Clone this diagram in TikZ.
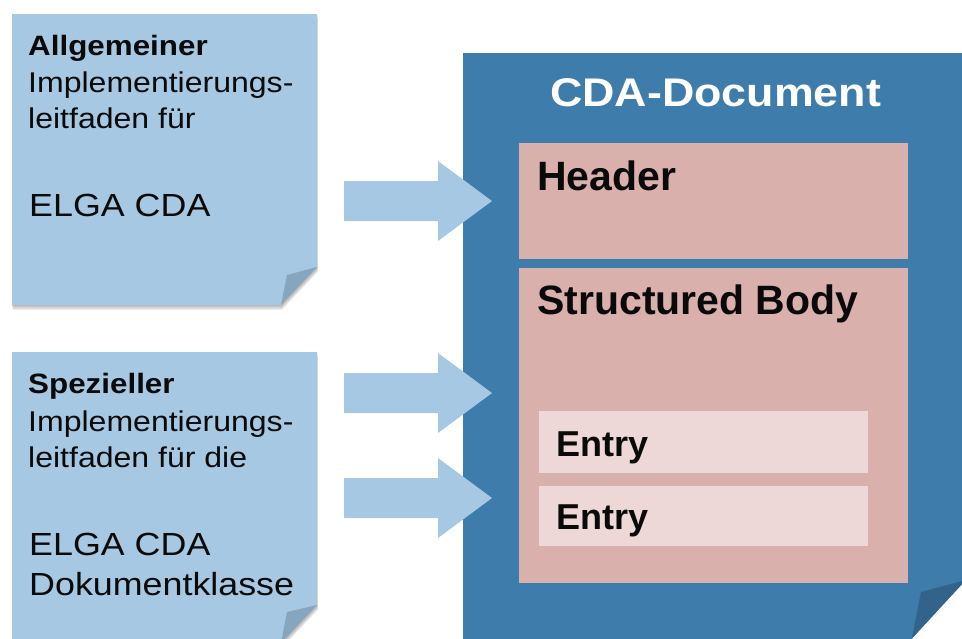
\documentclass[tikz,border=0pt]{standalone}
\usepackage{fontspec}
\setmainfont{Liberation Sans}
\newfontfamily\widefont{Liberation Sans}[FakeStretch=1.12]
\usetikzlibrary{calc}
\definecolor{noteblue}{RGB}{167,200,226}
\definecolor{notefold}{RGB}{134,165,190}
\definecolor{docblue}{RGB}{61,124,171}
\definecolor{docfold}{RGB}{49,99,139}
\definecolor{pinkbox}{RGB}{218,176,173}
\definecolor{entrybox}{RGB}{237,216,215}
\definecolor{txt}{RGB}{10,10,10}
\newcommand\fatarrow[2]{%
  \fill[arrowfill] ($(#1)+(0,-20)$) -- ($(#2)+(-54,-20)$) -- ($(#2)+(-54,-40)$) -- (#2)
    -- ($(#2)+(-54,40)$) -- ($(#2)+(-54,20)$) -- ($(#1)+(0,20)$) -- cycle;}
\begin{document}
\begin{tikzpicture}[x=1pt,y=-1pt,
  arrowfill/.style={fill=noteblue},
  notefill/.style={fill=noteblue},
  foldfill/.style={fill=notefold},
  shadowfill/.style={fill=black,opacity=0.10},
  lbl/.style={inner sep=0pt,anchor=base west,text=txt},
  notesmall/.style={lbl,font=\widefont\fontsize{28.6}{34}\selectfont},
  notesmallb/.style={lbl,font=\widefont\bfseries\fontsize{28}{34}\selectfont},
  notebig/.style={lbl,font=\widefont\fontsize{32}{38}\selectfont},
  boxlbl/.style={lbl,font=\bfseries\fontsize{41}{48}\selectfont},
  entrylbl/.style={lbl,font=\bfseries\fontsize{36}{42}\selectfont},
  pinkrect/.style={fill=pinkbox,draw=none,inner sep=0pt,anchor=north west},
  entryrect/.style={fill=entrybox,draw=none,inner sep=0pt,anchor=north west}]
\useasboundingbox (0,0) rectangle (962,638);
\clip (0,0) rectangle (962,638);

% ---- note 1 ----
\foreach \d in {1.2,2.4,3.6,4.8}{
  \fill[shadowfill,opacity=0.08] (12+0.2*\d,14+\d) -- (317+0.2*\d,14+\d) -- (317+0.2*\d,267+\d) -- (281+0.2*\d,305+\d) -- (12+0.2*\d,305+\d) -- cycle;}
\fill[notefill] (12,14) -- (317,14) -- (317,267) -- (281,305) -- (12,305) -- cycle;
\fill[foldfill] (317,267) -- (287,275) -- (281,305) -- cycle;
\node[notesmallb] (n1a) at (28,55) {Allgemeiner};
\node[notesmall]  (n1b) at (28,92) {Implementierungs-};
\node[notesmall]  (n1c) at (28,128.5) {leitfaden für};
\node[notebig]    (n1d) at (29,216) {ELGA CDA};

% ---- note 2 ----
\foreach \d in {1.2,2.4,3.6,4.8}{
  \fill[shadowfill,opacity=0.08] (12+0.2*\d,352+\d) -- (317+0.2*\d,352+\d) -- (317+0.2*\d,605+\d) -- (281+0.2*\d,643+\d) -- (12+0.2*\d,643+\d) -- cycle;}
\fill[notefill] (12,352) -- (317,352) -- (317,605) -- (281,643) -- (12,643) -- cycle;
\fill[foldfill] (317,605) -- (287,612) -- (281,643) -- cycle;
\node[notesmallb] (n2a) at (28,393) {Spezieller};
\node[notesmall]  (n2b) at (28,431) {Implementierungs-};
\node[notesmall]  (n2c) at (28,467.5) {leitfaden für die};
\node[notebig]    (n2d) at (29,555) {ELGA CDA};
\node[notebig]    (n2e) at (29,595) {Dokumentklasse};

% ---- CDA document ----
\fill[docblue] (463,53) -- (975,53) -- (975,568) -- (906,645) -- (463,645) -- cycle;
\fill[docfold] (966,580) -- (921,592) -- (912,638) -- (906,645) -- cycle;
\node[lbl,text=white,font=\widefont\bfseries\fontsize{40}{48}\selectfont] (doc) at (550,106) {CDA-Document};

\node[pinkrect,minimum width=389pt,minimum height=116pt] (header) at (519,143) {};
\node[boxlbl] (headerlbl) at (537,190.5) {Header};
\node[pinkrect,minimum width=389pt,minimum height=315pt] (body) at (519,268) {};
\node[boxlbl] (bodylbl) at (537,314) {Structured Body};
\node[entryrect,minimum width=329pt,minimum height=62pt] (entry1) at (539,411) {};
\node[entrylbl] (entry1lbl) at (556,456) {Entry};
\node[entryrect,minimum width=329pt,minimum height=60pt] (entry2) at (539,486) {};
\node[entrylbl] (entry2lbl) at (556,529) {Entry};

% ---- arrows ----
\coordinate (a1s) at (344,201);
\coordinate (a1e) at (492,201);
\coordinate (a2s) at (344,393);
\coordinate (a2e) at (492,393);
\coordinate (a3s) at (344,498);
\coordinate (a3e) at (492,498);
\fatarrow{a1s}{a1e}
\fatarrow{a2s}{a2e}
\fatarrow{a3s}{a3e}
\end{tikzpicture}
\end{document}
